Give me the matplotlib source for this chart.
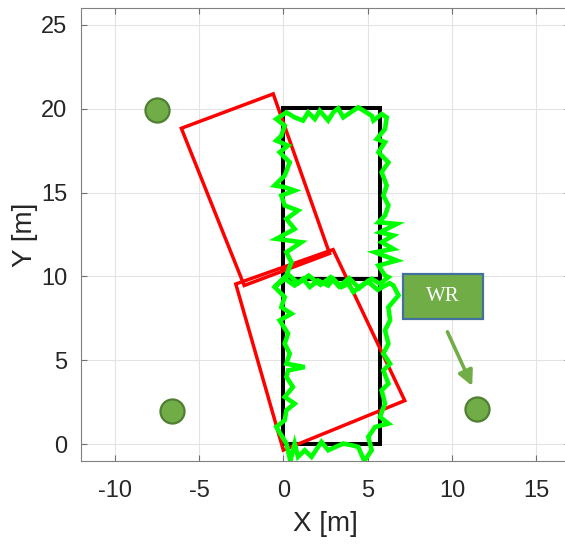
import matplotlib

matplotlib.use("Agg")
import matplotlib.pyplot as plt
from matplotlib.patches import Polygon, FancyBboxPatch

plt.rcParams["font.family"] = ["Liberation Sans", "DejaVu Sans"]
plt.rcParams["axes.unicode_minus"] = False

# planned corridor (black), two boxes sharing the middle edge
BOX_X = [0, 0, 5.75, 5.75, 0]
BOX_Y = [0, 20.05, 20.05, 0, 0]
MID_X = [0, 5.75]
MID_Y = [9.85, 9.85]

# estimated rectangles (red), corner lists
RECT_UPPER = [(-6.05, 18.83), (-0.6, 20.88), (2.74, 11.37), (-2.32, 9.46)]
RECT_LOWER = [(-2.82, 9.55), (2.95, 11.6), (7.2, 2.6), (0.0, -0.35)]

# anchors (green dots)
ANCHOR_X = [-7.5, -6.6, 11.5]
ANCHOR_Y = [19.9, 2.0, 2.1]

# tracked trajectory (green)
TRACK_X = [
    0.45, 0.18, -0.12, -0.42, 0.08, 0.18, 0.67, 0.08, 0.57, 0.18, 0.28, 1.27,
    0.18, 0.38, 0.08, 0.28, -0.22, 0.48, -0.12, 0.08, -0.52,
    0.18, 0.48, 0.18, 1.07, -0.42, 0.67, 0.18, 0.87, 0.08, -0.12, 0.67, 0.08,
    -0.52, 0.08, 0.38, -0.22, 0.28, -0.42, -0.12, 0.08, -0.42,
    0.18, 0.67, 1.17, 1.47, 1.87, 2.16, 2.66, 2.96, 3.25, 3.55, 4.44, 5.24,
    5.34, 5.83, 6.13,
    6.03, 5.54, 6.03, 5.64, 6.23, 5.83, 6.13, 5.93, 6.23, 6.03, 5.64, 6.73,
    5.73, 6.53, 5.83, 6.53, 5.44, 6.73, 5.64, 6.03,
    6.23, 5.73, 5.24, 4.64, 4.15, 3.85, 3.45, 2.96, 2.66, 2.06, 1.57, 1.17,
    0.67, 0.08, -0.52,
    0.3, 0.9, 1.5, 2.2, 2.8, 3.3, 3.9, 4.5, 5.0, 5.6, 6.3,
    6.53, 6.83, 6.23, 6.33, 6.03, 6.23, 5.93, 6.33, 5.93, 6.23, 5.83, 6.03,
    5.73, 6.23,
    5.44, 5.04, 5.24, 4.8, 4.44, 4.05, 3.55, 2.66, 2.26, 1.67, 1.27, 0.87,
    0.67, 0.38,
]
TRACK_Y = [
    -1.15, 0.04, 0.54, 1.03, 1.43, 2.02, 2.42, 2.82, 3.41, 4.01, 4.40, 4.60,
    4.80, 5.40, 5.99, 6.59, 7.38, 7.78, 8.17, 8.77, 9.37,
    10.06, 10.85, 11.44, 12.04, 12.24, 12.83, 13.43, 13.93, 14.23, 14.82,
    15.12, 15.32, 15.42, 16.01, 16.80, 17.40, 17.80, 18.10, 18.39, 18.99,
    19.38,
    19.78, 19.48, 19.29, 19.78, 19.38, 19.88, 19.29, 19.78, 20.02, 19.48,
    20.08, 19.58, 19.29, 19.68, 19.48,
    18.79, 18.19, 18.00, 17.40, 16.80, 16.21, 15.42, 14.82, 14.23, 13.63,
    13.23, 13.13, 12.63, 12.44, 12.04, 11.64, 11.44, 10.95, 10.65, 10.06,
    9.96, 9.56, 9.86, 9.46, 9.07, 9.56, 9.37, 9.86, 9.46, 9.76, 9.37, 9.86,
    9.46, 9.86, 9.37,
    10.1, 9.6, 10.05, 9.5, 9.95, 9.4, 9.9, 9.3, 9.7, 9.2, 9.6,
    9.46, 8.87, 8.17, 7.38, 6.79, 5.99, 5.40, 4.80, 4.40, 3.61, 3.21, 2.42,
    1.63, 1.23,
    1.03, 0.44, -0.36, -1.0, -0.16, -0.06, 0.04, -0.36, 0.14, -0.75, -0.36,
    -0.75, 0.04, -1.15,
]

X_TICKS = [-10, -5, 0, 5, 10, 15]
Y_TICKS = [0, 5, 10, 15, 20, 25]

fig = plt.figure(figsize=(5.65, 5.45), dpi=100)
ax = fig.add_axes([81 / 565, 84 / 545, 489 / 565, 453 / 545])

ax.plot(BOX_X, BOX_Y, color="black", linewidth=2.9, solid_joinstyle="miter", zorder=2)
ax.plot(MID_X, MID_Y, color="black", linewidth=2.9, zorder=2)
for corners in (RECT_UPPER, RECT_LOWER):
    ax.add_patch(Polygon(corners, closed=True, fill=False, edgecolor="#ff0000",
                         linewidth=2.5, zorder=3))
ax.plot(TRACK_X, TRACK_Y, color="#00ff00", linewidth=3.3, solid_joinstyle="miter", zorder=4)
ax.scatter(ANCHOR_X, ANCHOR_Y, s=300, color="#70ad47", edgecolors="#507e32",
           linewidths=1.6, zorder=5, clip_on=False)

# WR label box with arrow pointing at the right anchor
ax.add_patch(FancyBboxPatch((7.1, 7.48), 4.77, 2.68, boxstyle="square,pad=0",
                            facecolor="#70ad47", edgecolor="#41719c", linewidth=1.6, zorder=6))
ax.text(9.48, 8.82, "WR", color="white", fontsize=15, family="Liberation Serif",
        ha="center", va="center", zorder=7)
ax.annotate("", xy=(11.27, 3.32), xytext=(9.66, 6.85),
            arrowprops=dict(arrowstyle="-|>,head_length=0.9,head_width=0.45",
                            color="#70ad47", linewidth=2.6), zorder=6)

ax.set_xlim(-12, 17)
ax.set_ylim(-1, 26)
ax.set_xticks(X_TICKS)
ax.set_yticks(Y_TICKS)
ax.grid(color="#e3e3e3", linewidth=0.8)
ax.set_axisbelow(True)
ax.tick_params(direction="in", length=4, width=0.8, color="#707070",
               labelsize=17, labelcolor="#262626", top=True, right=True, pad=10)
ax.tick_params(axis="x", pad=14)
for spine in ax.spines.values():
    spine.set_color("#808080")
    spine.set_linewidth(0.8)
ax.set_xlabel("X [m]", fontsize=20, color="#262626", labelpad=6)
ax.set_ylabel("Y [m]", fontsize=20, color="#262626", labelpad=2)

fig.savefig("out.png", dpi=100)
